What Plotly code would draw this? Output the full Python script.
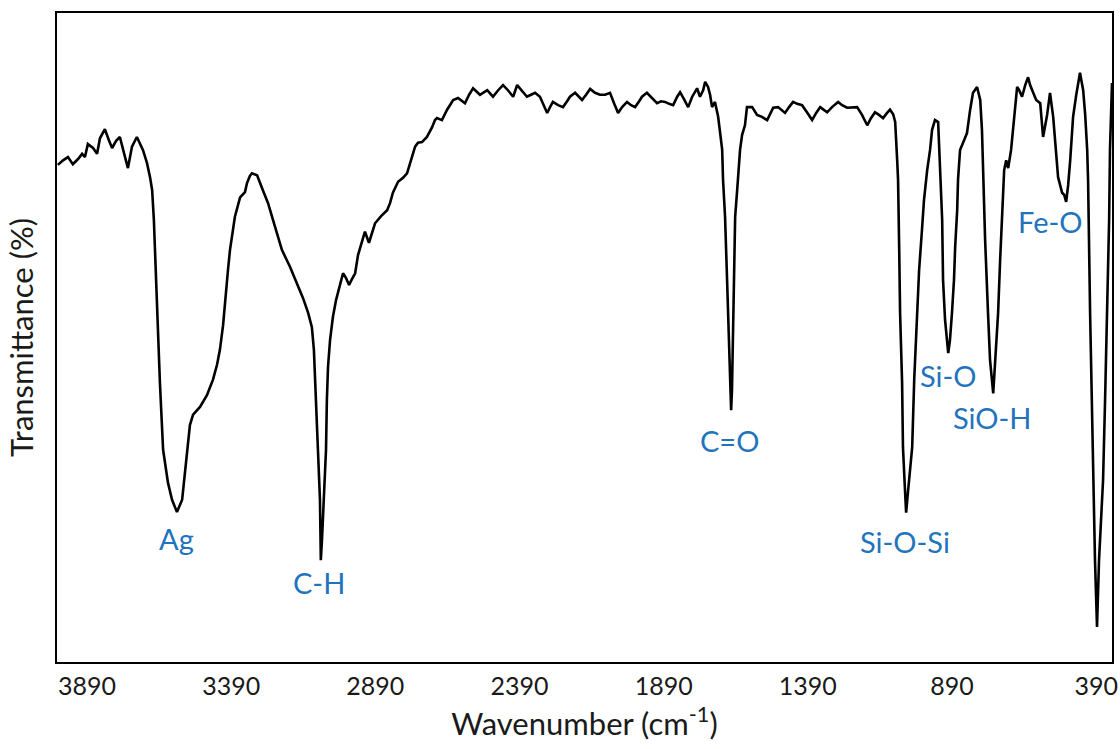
import plotly.graph_objects as go

wavenumber = [
    3991, 3973, 3956, 3939, 3921, 3907, 3897, 3887, 3869, 3855, 3845, 3828, 3814, 3803, 3789, 3776,
    3758, 3748, 3734, 3717, 3696, 3682, 3671, 3664, 3658, 3654, 3647, 3637, 3626, 3609, 3595, 3578,
    3560, 3550, 3543, 3533, 3522, 3498, 3474, 3453, 3439, 3429, 3418, 3411, 3401, 3394, 3384, 3377,
    3359, 3342, 3335, 3325, 3318, 3300, 3280, 3262, 3248, 3231, 3214, 3186, 3162, 3141, 3123, 3110,
    3103, 3099, 3092, 3089, 3082, 3079, 3075, 3071, 3068, 3061, 3058, 3054, 3047, 3037, 3026, 3012,
    3002, 2992, 2981, 2971, 2960, 2950, 2936, 2926, 2912, 2901, 2891, 2870, 2849, 2839, 2829, 2811,
    2794, 2780, 2766, 2752, 2742, 2728, 2711, 2693, 2683, 2676, 2659, 2641, 2620, 2603, 2579, 2565,
    2551, 2527, 2502, 2482, 2464, 2447, 2430, 2412, 2398, 2381, 2364, 2350, 2336, 2319, 2305, 2294,
    2284, 2274, 2256, 2239, 2225, 2215, 2197, 2173, 2159, 2145, 2128, 2111, 2093, 2076, 2062, 2048,
    2034, 2017, 2003, 1989, 1975, 1965, 1948, 1930, 1913, 1899, 1885, 1871, 1857, 1843, 1833, 1819,
    1805, 1791, 1774, 1764, 1753, 1746, 1736, 1729, 1722, 1712, 1701, 1694, 1687, 1684, 1677, 1670,
    1663, 1660, 1656, 1653, 1649, 1646, 1642, 1635, 1625, 1618, 1608, 1601, 1583, 1566, 1549, 1531,
    1510, 1493, 1469, 1455, 1441, 1427, 1410, 1393, 1375, 1361, 1347, 1323, 1306, 1285, 1271, 1254,
    1236, 1219, 1202, 1184, 1171, 1157, 1143, 1129, 1115, 1105, 1094, 1087, 1080, 1077, 1073, 1070,
    1063, 1060, 1053, 1049, 1042, 1035, 1028, 1021, 1011, 1004, 994, 987, 976, 966, 959, 949,
    938, 931, 924, 921, 914, 903, 897, 890, 883, 879, 872, 869, 862, 848, 838, 827,
    817, 803, 792, 786, 782, 775, 765, 758, 747, 740, 730, 723, 716, 709, 702, 695,
    685, 678, 664, 657, 647, 636, 626, 619, 609, 598, 584, 574, 560, 550, 539, 529,
    522, 508, 501, 494, 487, 480, 470, 459, 446, 435, 428, 421, 418, 411, 404, 400,
    394, 387, 380, 373, 366, 359, 352, 345, 342, 338, 335,
]

transmittance = [
    76.6, 77.3, 77.8, 76.7, 77.5, 78.3, 77.8, 79.8, 79.2, 78.3, 80.7, 82.1, 80.4, 79.2, 80.3, 80.9,
    77.8, 76.1, 79.4, 80.9, 78.9, 76.9, 74.6, 72.7, 68.1, 63.5, 53.2, 43.0, 32.7, 27.6, 25.0, 23.1,
    25.0, 29.6, 32.7, 36.5, 38.1, 39.3, 41.1, 43.5, 45.8, 48.1, 51.9, 55.8, 60.4, 63.5, 66.6, 68.6,
    71.6, 72.4, 73.8, 74.9, 75.3, 75.0, 72.7, 70.7, 68.6, 66.1, 63.5, 60.9, 58.4, 56.1, 53.8, 51.6,
    48.1, 43.0, 37.3, 32.7, 25.0, 15.7, 18.8, 22.3, 26.5, 32.7, 40.4, 45.5, 49.6, 53.2, 55.8, 58.4,
    59.9, 59.2, 58.1, 59.0, 59.9, 62.7, 65.0, 66.3, 64.6, 66.3, 67.6, 68.7, 69.6, 70.7, 72.3, 74.0,
    74.6, 75.3, 77.3, 79.4, 80.0, 80.1, 80.9, 82.4, 83.5, 83.8, 83.5, 85.1, 86.6, 86.9, 86.1, 87.4,
    88.4, 87.4, 88.1, 87.1, 88.1, 88.9, 88.1, 87.1, 88.9, 88.0, 87.1, 87.4, 87.7, 87.1, 85.7, 84.6,
    85.5, 86.3, 85.8, 85.5, 86.4, 87.1, 87.7, 86.6, 87.4, 88.3, 87.7, 87.4, 87.4, 87.7, 86.1, 84.6,
    85.5, 86.3, 85.8, 85.5, 86.4, 87.1, 87.7, 86.9, 86.1, 86.4, 86.3, 86.0, 85.8, 87.1, 87.8, 86.7,
    85.5, 87.1, 88.4, 87.1, 88.1, 89.4, 88.6, 87.4, 85.5, 86.3, 84.0, 81.5, 78.9, 74.3, 68.6, 58.9,
    48.1, 41.9, 38.8, 41.9, 51.2, 60.4, 68.6, 72.7, 78.9, 81.2, 82.7, 85.5, 85.5, 84.3, 84.0, 83.5,
    85.4, 85.5, 84.6, 85.5, 86.3, 86.0, 85.8, 84.7, 83.5, 84.6, 85.5, 84.7, 85.5, 86.3, 85.8, 85.4,
    85.5, 85.5, 84.3, 82.7, 83.8, 84.7, 84.3, 83.8, 84.6, 85.1, 84.4, 83.2, 77.3, 74.3, 63.5, 53.8,
    43.0, 33.1, 26.5, 23.0, 26.5, 29.6, 33.1, 43.5, 53.8, 60.4, 66.6, 71.2, 75.8, 78.9, 82.0, 83.5,
    83.2, 75.8, 68.1, 58.9, 52.7, 47.6, 49.6, 53.8, 58.9, 63.9, 69.6, 74.3, 78.9, 80.4, 81.5, 85.1,
    87.7, 88.6, 86.6, 82.0, 75.8, 65.0, 53.8, 46.5, 41.4, 46.5, 53.8, 61.9, 68.1, 75.8, 77.3, 76.1,
    78.9, 82.0, 88.6, 88.1, 87.1, 88.9, 90.1, 88.9, 87.7, 86.6, 86.1, 80.9, 84.3, 87.7, 84.0, 78.9,
    74.7, 72.3, 72.0, 70.9, 73.5, 77.3, 84.0, 87.4, 90.8, 88.1, 84.3, 78.9, 74.3, 53.8, 37.3, 28.0,
    15.7, 5.4, 15.7, 21.9, 28.0, 40.4, 53.8, 68.1, 78.9, 84.0, 89.2,
]

tick_values = [3890, 3390, 2890, 2390, 1890, 1390, 890, 390]
tick_labels = ["3890", "3390", "2890", "2390", "1890", "1390", "890", "390"]

band_labels = ["Ag", "C-H", "C=O", "Si-O-Si", "Si-O", "SiO-H", "Fe-O"]
band_label_x = [3581, 3085, 1663, 1053, 903, 751, 550]
band_label_y = [19.0, 12.2, 34.2, 18.5, 44.2, 37.6, 67.8]

FONT = "Lato"
LABEL_BLUE = "#1F74BD"
TEXT = "#1a1a1a"

fig = go.Figure()
fig.add_trace(go.Scatter(
    x=wavenumber, y=transmittance, mode="lines",
    line=dict(color="black", width=2.6), hoverinfo="x+y", showlegend=False,
))

for txt, lx, ly in zip(band_labels, band_label_x, band_label_y):
    fig.add_annotation(x=lx, y=ly, text=txt, showarrow=False,
                       font=dict(family=FONT, size=29, color=LABEL_BLUE),
                       xanchor="center", yanchor="middle")

fig.update_layout(
    width=1120, height=749,
    margin=dict(l=57, r=8, t=13, b=87),
    paper_bgcolor="white", plot_bgcolor="white",
    font=dict(family=FONT, color=TEXT),
)
fig.update_xaxes(
    range=[3994, 335], tickvals=tick_values, ticktext=tick_labels,
    ticks="", showgrid=False, zeroline=False,
    showline=True, mirror=True, linecolor="black", linewidth=2.2,
    tickfont=dict(family=FONT, size=25, color=TEXT),
    ticklabelstandoff=1,
    title=dict(text="Wavenumber (cm<sup>-1</sup>)", standoff=14,
               font=dict(family=FONT, size=31, color=TEXT)),
    automargin=False,
)
fig.update_yaxes(
    range=[0, 100], showticklabels=False, ticks="", showgrid=False, zeroline=False,
    showline=True, mirror=True, linecolor="black", linewidth=2.2,
    title=dict(text="Transmittance (%)", standoff=12,
               font=dict(family=FONT, size=31, color=TEXT)),
    automargin=False,
)

fig.write_html("out.html",
               config={"displayModeBar": False},
               post_script="document.body.style.margin='0';document.body.style.padding='0';")
